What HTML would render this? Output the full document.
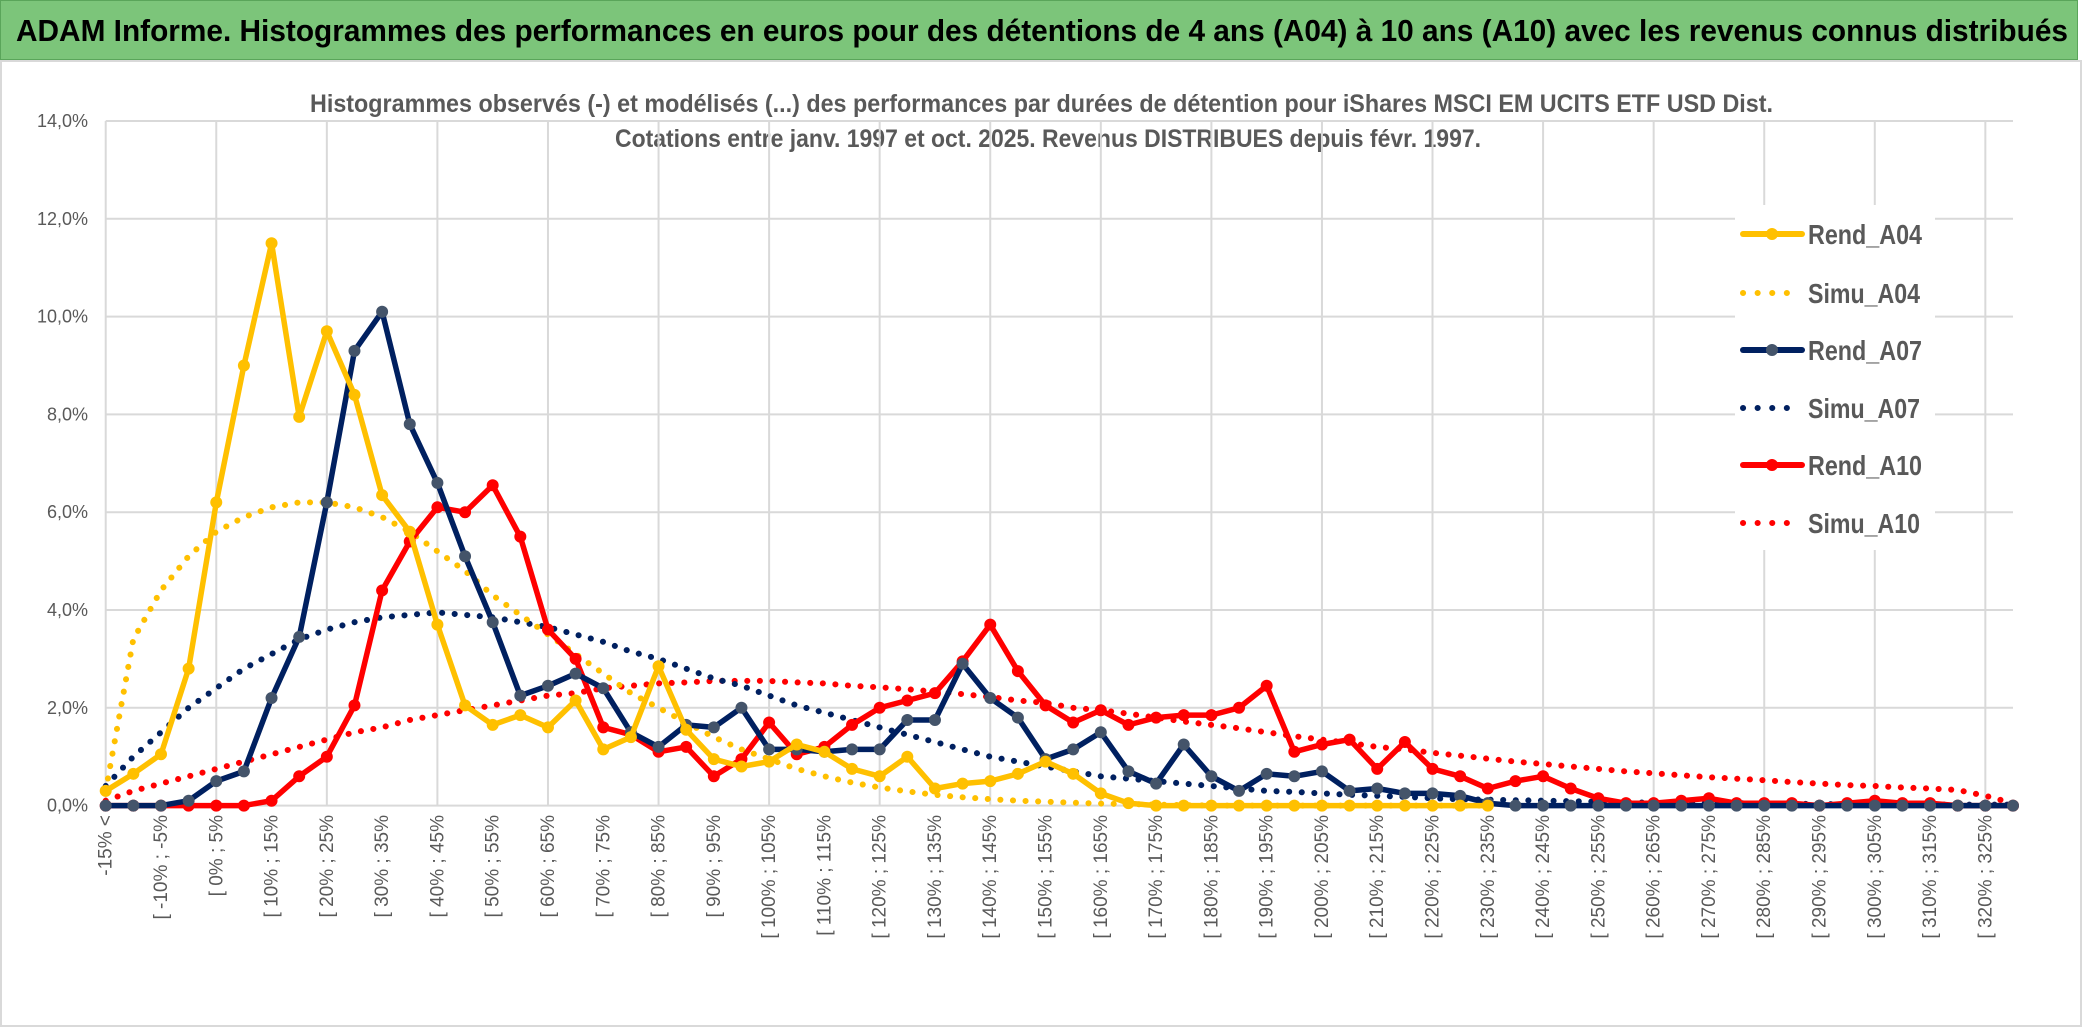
<!DOCTYPE html>
<html><head><meta charset="utf-8"><style>
html,body{margin:0;padding:0;background:#fff;width:2086px;height:1033px;overflow:hidden}
#titlebar{position:absolute;left:0;top:0;width:2076px;height:58px;background:#7cc57a;border:1px solid #5aa55a}
svg{position:absolute;left:0;top:0}
</style></head><body>
<div id="titlebar"></div>
<svg id="chart" width="2086" height="1033" font-family="'Liberation Sans',sans-serif">
<text x="16" y="41" font-size="31" font-weight="bold" fill="#000" textLength="2052" lengthAdjust="spacingAndGlyphs">ADAM Informe. Histogrammes des performances en euros pour des détentions de 4 ans (A04) à 10 ans (A10) avec les revenus connus distribués</text>
</svg>
<script>
const rendA04=[0.3,0.65,1.05,2.8,6.2,9.0,11.5,7.95,9.7,8.4,6.35,5.6,3.7,2.05,1.65,1.85,1.6,2.15,1.15,1.4,2.85,1.55,0.95,0.8,0.9,1.25,1.1,0.75,0.6,1.0,0.35,0.45,0.5,0.65,0.9,0.65,0.25,0.05,0,0,0,0,0,0,0,0,0,0,0,0,0];
const simuA04=[0.3,3.4,4.4,5.1,5.6,5.9,6.1,6.2,6.2,6.1,5.9,5.6,5.2,4.8,4.3,3.9,3.5,3.1,2.7,2.3,2.0,1.7,1.4,1.15,0.95,0.75,0.6,0.47,0.37,0.29,0.22,0.17,0.13,0.1,0.08,0.06,0.04,0.03,0.02,0.01,0,0,0,0,0,0,0,0,0,0,0];
const rendA07=[0,0,0,0.1,0.5,0.7,2.2,3.45,6.2,9.3,10.1,7.8,6.6,5.1,3.75,2.25,2.45,2.7,2.4,1.5,1.2,1.65,1.6,2.0,1.15,1.15,1.1,1.15,1.15,1.75,1.75,2.9,2.2,1.8,0.95,1.15,1.5,0.7,0.45,1.25,0.6,0.3,0.65,0.6,0.7,0.3,0.35,0.25,0.25,0.2,0.05,0,0,0,0,0,0,0,0,0,0,0,0,0,0,0,0,0,0,0];
const simuA07=[0.4,1.0,1.5,2.0,2.4,2.8,3.1,3.4,3.6,3.75,3.85,3.9,3.95,3.9,3.85,3.75,3.65,3.5,3.35,3.15,3.0,2.8,2.6,2.45,2.25,2.05,1.9,1.75,1.6,1.45,1.3,1.15,1.0,0.9,0.8,0.7,0.6,0.55,0.5,0.45,0.4,0.35,0.3,0.28,0.25,0.22,0.2,0.18,0.15,0.13,0.12,0.11,0.1,0.09,0.08,0.07,0.06,0.06,0.05,0.05,0.04,0.04,0.03,0.03,0.03,0.02,0.02,0.02,0.02,0.02];
const rendA10=[0,0,0,0,0,0,0.1,0.6,1.0,2.05,4.4,5.4,6.1,6.0,6.55,5.5,3.6,3.0,1.6,1.45,1.1,1.2,0.6,0.95,1.7,1.05,1.2,1.65,2.0,2.15,2.3,2.95,3.7,2.75,2.05,1.7,1.95,1.65,1.8,1.85,1.85,2.0,2.45,1.1,1.25,1.35,0.75,1.3,0.75,0.6,0.35,0.5,0.6,0.35,0.15,0.05,0.05,0.1,0.15,0.05,0.05,0.05,0,0.05,0.1,0.05,0.05,0,0,0];
const simuA10=[0.1,0.3,0.45,0.6,0.75,0.9,1.05,1.2,1.35,1.5,1.6,1.75,1.85,1.95,2.05,2.15,2.25,2.3,2.4,2.45,2.5,2.52,2.55,2.55,2.55,2.52,2.5,2.45,2.42,2.38,2.33,2.28,2.22,2.15,2.1,2.0,1.95,1.88,1.8,1.72,1.65,1.58,1.5,1.42,1.35,1.28,1.2,1.15,1.08,1.02,0.96,0.9,0.85,0.8,0.75,0.7,0.66,0.62,0.58,0.55,0.52,0.48,0.45,0.42,0.4,0.37,0.35,0.32,0.2,0.05];
const yTicks=[0,2,4,6,8,10,12,14];
const nCat=70;
const categories=[];
for(let i=0;i<nCat;i++){categories.push(i===0?'-15% <':'[ '+(-20+5*i)+'% ; '+(-15+5*i)+'%');}

const NS='http://www.w3.org/2000/svg';
const svg=document.getElementById('chart');
const X0=105.7,X1=2013,Y0=805.6,YT=121;
const xs=i=>X0+(X1-X0)*i/(nCat-1);
const ys=v=>Y0-(Y0-YT)*v/14;
function mk(tag,attrs,parent){const e=document.createElementNS(NS,tag);for(const k in attrs)e.setAttribute(k,attrs[k]);(parent||svg).appendChild(e);return e;}

const fr=mk('rect',{x:1,y:61,width:2080,height:965,fill:'#fff',stroke:'#d9d9d9','stroke-width':2});



const t1=mk('text',{x:310,y:112,'font-size':25,'font-weight':'bold',fill:'#595959',textLength:1463,lengthAdjust:'spacingAndGlyphs'});
t1.textContent='Histogrammes observés (-) et modélisés (...) des performances par durées de détention pour iShares MSCI EM UCITS ETF USD Dist.';


const t2=mk('text',{x:615,y:147,'font-size':25,'font-weight':'bold',fill:'#595959',textLength:866,lengthAdjust:'spacingAndGlyphs'});
t2.textContent='Cotations entre janv. 1997 et oct. 2025. Revenus DISTRIBUES depuis févr. 1997.';



const grid=mk('g',{stroke:'#d9d9d9','stroke-width':2});


yTicks.forEach(v=>{
  const l=mk('line',{x1:X0,x2:X1,y1:ys(v),y2:ys(v)},grid);
  
  
  const tx=mk('text',{x:88,y:ys(v)+6,'text-anchor':'end','font-size':18,fill:'#595959',stroke:'none'});
  tx.textContent=v.toFixed(1).replace('.',',')+'%';
  
  
});
for(let i=0;i<nCat;i+=4){
  const l=mk('line',{x1:xs(i),x2:xs(i),y1:YT,y2:Y0},grid);
  
  
}
categories.forEach((c,i)=>{
  if(i%2)return;
  const x=xs(i)+6,y=815;
  const tx=mk('text',{x:x,y:y,'text-anchor':'end','font-size':19,fill:'#595959',transform:'rotate(-90 '+x+' '+y+')'});
  tx.textContent=c;
  
  
});

function series(data,color,dotted,marker,name){
  const g=mk('g',{});
  
  
  const pts=data.map((v,i)=>xs(i).toFixed(1)+','+ys(v).toFixed(1)).join(' ');
  const a={points:pts,fill:'none',stroke:color,'stroke-width':dotted?6:5.5,'stroke-linejoin':'round','stroke-linecap':'round'};
  if(dotted)a['stroke-dasharray']='0.1 12.5';
  const p=mk('polyline',a,g);
  
  
  if(marker){data.forEach((v,i)=>{
    const c=mk('circle',{cx:xs(i),cy:ys(v),r:5.5,fill:marker,stroke:marker},g);
    
    
  });}
}
series(simuA10,'#ff0000',true,null,'simu-a10');
series(simuA07,'#002060',true,null,'simu-a07');
series(simuA04,'#ffc000',true,null,'simu-a04');
series(rendA10,'#ff0000',false,'#ff0000','rend-a10');
series(rendA07,'#002060',false,'#44546a','rend-a07');
series(rendA04,'#ffc000',false,'#ffc000','rend-a04');

const leg=mk('g',{});


mk('rect',{x:1735,y:205,width:200,height:345,fill:'#fff'},leg);
const legItems=[['Rend_A04','#ffc000',false,'#ffc000'],['Simu_A04','#ffc000',true,null],['Rend_A07','#002060',false,'#44546a'],['Simu_A07','#002060',true,null],['Rend_A10','#ff0000',false,'#ff0000'],['Simu_A10','#ff0000',true,null]];
const legY=[234,293,350,408,465,523];
legItems.forEach((it,k)=>{
  const y=legY[k];
  const e=mk('g',{},leg);
  
  
  const la={x1:1743,x2:1802,y1:y,y2:y,stroke:it[1],'stroke-width':6,'stroke-linecap':'round'};
  if(it[2]){la['stroke-dasharray']='0.1 14.5';la.x2=1792;}
  mk('line',la,e);
  if(it[3])mk('circle',{cx:1772,cy:y,r:6,fill:it[3]},e);
  const tx=mk('text',{x:1808,y:y+10,'font-size':28,'font-weight':'bold',fill:'#595959',textLength:it[0].startsWith('Rend')?114:112,lengthAdjust:'spacingAndGlyphs'},e);
  tx.textContent=it[0];
});
</script>
</body></html>
